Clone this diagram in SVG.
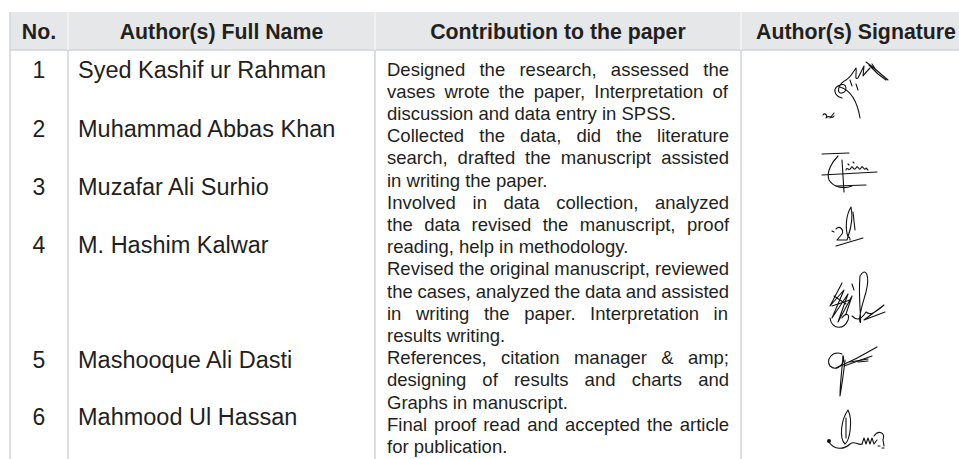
<svg xmlns="http://www.w3.org/2000/svg" width="959" height="459" viewBox="0 0 959 459">
<style>
  .hd{font-family:"Liberation Sans",Arial,sans-serif;font-weight:bold;font-size:21.3px;fill:#231f20;text-anchor:middle}
  .num{font-family:"Liberation Sans",Arial,sans-serif;font-size:23px;fill:#231f20;text-anchor:middle}
  .nm{font-family:"Liberation Sans",Arial,sans-serif;font-size:23.5px;fill:#231f20}
  .ct{font-family:"Liberation Sans",Arial,sans-serif;font-size:18.5px;fill:#231f20}
  .sig{fill:none;stroke:#111;stroke-width:1.1;stroke-linecap:round;stroke-linejoin:round}
  .grid{stroke:#d2d3d5;stroke-width:1.5}
  .hgrid{stroke:#f4f4f5;stroke-width:1.5}
</style>
<rect x="0" y="0" width="959" height="459" fill="#ffffff"/>
<g id="table-frame">
  <rect x="10" y="12" width="949" height="38" fill="#e6e7e9"/>
  <line class="grid" x1="10" y1="50" x2="959" y2="50"/>
  <line class="grid" x1="10" y1="12" x2="10" y2="459" stroke-width="2"/>
  <line class="hgrid" x1="68" y1="12" x2="68" y2="50"/>
  <line class="hgrid" x1="375" y1="12" x2="375" y2="50"/>
  <line class="hgrid" x1="741" y1="12" x2="741" y2="50"/>
  <line class="grid" x1="68" y1="50" x2="68" y2="459"/>
  <line class="grid" x1="375" y1="50" x2="375" y2="459"/>
  <line class="grid" x1="741" y1="50" x2="741" y2="459"/>
</g>
<g id="header">
  <text class="hd" x="39" y="38.5">No.</text>
  <text class="hd" x="221.5" y="38.5">Author(s) Full Name</text>
  <text class="hd" x="558" y="38.5">Contribution to the paper</text>
  <text class="hd" x="856" y="38.5">Author(s) Signature</text>
</g>
<g id="row1">
  <text class="num" x="39" y="78">1</text>
  <text class="nm" x="78" y="78">Syed Kashif ur Rahman</text>
  <text class="ct" x="387" y="75.5" word-spacing="9.15">Designed the research, assessed the</text>
  <text class="ct" x="387" y="97.7" word-spacing="4.0">vases wrote the paper, Interpretation of</text>
  <text class="ct" x="387" y="119.9">discussion and data entry in SPSS.</text>
  <g id="sig1" class="sig">
    <path d="M866,62 L874,68 L882,75 L888,80 M869,65 L878,74 L886,80 M872,64 L876,70"/>
    <path d="M842,98 C834,96 832,88 840,85 C847,82 848,92 842,93 C836,94 838,84 846,80 C851,77 853,72 856,68 C857,74 854,80 858,78 C860,74 862,70 864,66 L863,76 C866,72 868,70 870,68"/>
    <path d="M840,87 C850,90 857,100 860,118"/>
    <path d="M850,80 L852,86 M856,84 L858,90"/>
    <path d="M823,115 C825,112 828,116 826,118 C829,114 832,120 834,116 M830,118 L834,113"/>
  </g>
</g>
<g id="row2">
  <text class="num" x="39" y="137">2</text>
  <text class="nm" x="78" y="137">Muhammad Abbas Khan</text>
  <text class="ct" x="387" y="142.1" word-spacing="10.0">Collected the data, did the literature</text>
  <text class="ct" x="387" y="164.3" word-spacing="4.78">search, drafted the manuscript assisted</text>
  <text class="ct" x="387" y="186.5">in writing the paper.</text>
  <g id="sig2" class="sig">
    <path d="M822,154 L849,153"/>
    <path d="M838,156 C832,162 826,172 829,180 C834,188 844,189 852,186"/>
    <path d="M842,160 L844,192"/>
    <path d="M846,170 C847,166 849,172 851,168 C852,164 854,172 856,168 C858,164 859,172 861,168 C863,164 864,172 866,168 L868,170"/>
    <path d="M822,175 L877,172"/>
    <path d="M836,186 L866,185"/>
    <path d="M848,164 L849,165 M853,162 L854,163"/>
  </g>
</g>
<g id="row3">
  <text class="num" x="39" y="195">3</text>
  <text class="nm" x="78" y="195">Muzafar Ali Surhio</text>
  <text class="ct" x="387" y="208.7" word-spacing="11.47">Involved in data collection, analyzed</text>
  <text class="ct" x="387" y="230.9" word-spacing="6.3">the data revised the manuscript, proof</text>
  <text class="ct" x="387" y="253.1">reading, help in methodology.</text>
  <g id="sig3" class="sig">
    <path d="M851,207 C846,215 845,228 848,237 C851,228 853,216 851,207"/>
    <path d="M853,212 L855,230"/>
    <path d="M836,229 C840,225 844,230 842,234 L837,240 L847,240 C848,236 850,236 850,240"/>
    <path d="M836,246 L863,238"/>
    <path d="M832,231 L834,232"/>
  </g>
</g>
<g id="row4">
  <text class="num" x="39" y="253">4</text>
  <text class="nm" x="78" y="253">M. Hashim Kalwar</text>
  <text class="ct" x="387" y="275.3" word-spacing="-0.1">Revised the original manuscript, reviewed</text>
  <text class="ct" x="387" y="297.5" word-spacing="-0.4">the cases, analyzed the data and assisted</text>
  <text class="ct" x="387" y="319.7" word-spacing="9.38">in writing the paper. Interpretation in</text>
  <text class="ct" x="387" y="341.9">results writing.</text>
  <g id="sig4" class="sig">
    <path d="M842,283 L830,306 L844,290 L832,318 L848,294 L838,322 L852,296 L846,314"/>
    <path d="M834,296 L846,304 M832,306 L850,300"/>
    <path d="M860,276 C866,266 870,276 866,292 C862,306 858,318 860,322 C862,326 858,296 860,276"/>
    <path d="M852,316 C858,322 862,318 866,312 C870,316 876,312 884,305 L864,320 L885,312"/>
    <path d="M830,318 C832,330 844,330 848,320 C850,314 846,312 842,318"/>
    <path d="M852,284 L854,290"/>
  </g>
</g>
<g id="row5">
  <text class="num" x="39" y="368">5</text>
  <text class="nm" x="78" y="368">Mashooque Ali Dasti</text>
  <text class="ct" x="387" y="364.1" word-spacing="9.15">References, citation manager &amp; amp;</text>
  <text class="ct" x="387" y="386.3" word-spacing="11.02">designing of results and charts and</text>
  <text class="ct" x="387" y="408.5">Graphs in manuscript.</text>
  <g id="sig5" class="sig">
    <path d="M842,354 C832,350 826,360 830,366 C836,372 846,364 843,356"/>
    <path d="M843,356 C842,370 840,384 840,396 C842,384 844,370 845,360"/>
    <path d="M836,368 C850,362 862,356 877,347"/>
    <path d="M844,366 L872,356"/>
    <path d="M850,362 L868,359 M858,362 L868,361"/>
  </g>
</g>
<g id="row6">
  <text class="num" x="39" y="425">6</text>
  <text class="nm" x="78" y="425">Mahmood Ul Hassan</text>
  <text class="ct" x="387" y="430.7" word-spacing="1.82">Final proof read and accepted the article</text>
  <text class="ct" x="387" y="452.9">for publication.</text>
  <g id="sig6" class="sig">
    <path d="M848,410 C841,420 839,438 845,444 C850,440 853,420 848,410"/>
    <path d="M846,418 L846,438"/>
    <path d="M829,442 C834,450 844,450 850,444 C855,440 858,446 862,444"/>
    <path d="M862,444 L864,438 L866,444 L868,438 L870,444 L872,438 L874,444 L877,440"/>
    <path d="M874,436 C878,430 886,432 883,440 L884,446"/>
    <path d="M878,446 L880,446 M882,448 L884,448"/>
    <circle cx="829" cy="441" r="2" fill="#111" stroke="none"/>
  </g>
</g>
</svg>
